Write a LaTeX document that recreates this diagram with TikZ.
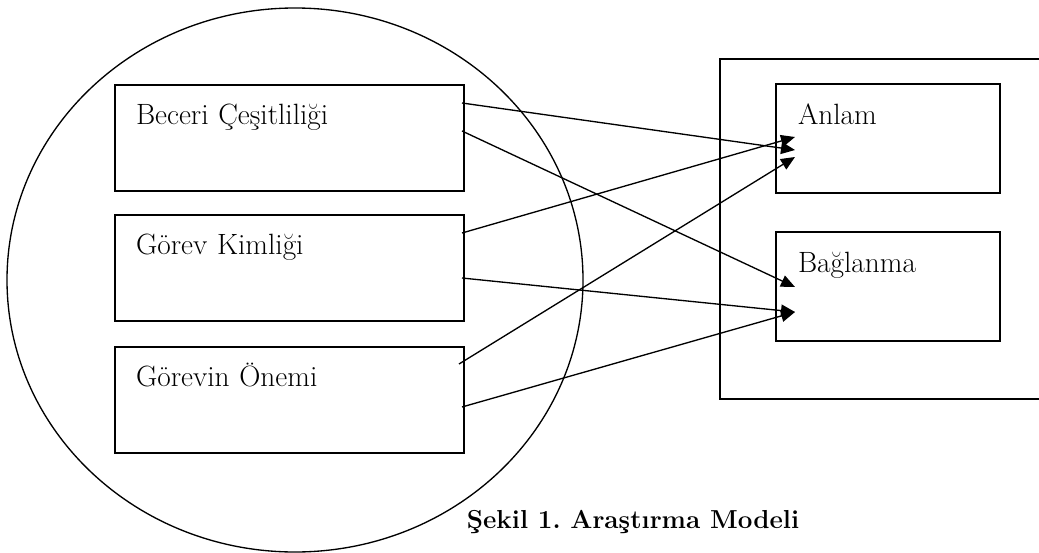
\documentclass[tikz,border=0pt]{standalone}
\usepackage{tikz}
\usetikzlibrary{arrows.meta, positioning, shapes.geometric, calc}
\tikzset{
    kutu/.style={
        rectangle,
        draw=black,
        line width=1.5pt,
        anchor=north west,
        align=left,
        inner xsep=15.75pt,
        inner ysep=0pt,
        text width=230.25pt,
        text height=29.25pt,
        text depth=50.25pt,
        font=\fontsize{22}{26}\selectfont
    },
    sonuc/.style={
        rectangle,
        draw=black,
        line width=1.5pt,
        anchor=north west,
        align=left,
        inner xsep=16.5pt,
        inner ysep=0pt,
        text width=135pt,
        text height=30pt,
        text depth=51.75pt,
        font=\fontsize{22}{26}\selectfont
    },
    cerceve/.style={
        rectangle,
        draw=black,
        line width=1.5pt,
        anchor=north west,
        minimum width=300pt,
        minimum height=255pt
    },
    daire/.style={
        ellipse,
        draw=black,
        line width=1pt,
        inner sep=0pt,
        minimum width=432pt,
        minimum height=408pt
    },
    baslik/.style={anchor=base, font=\bfseries\fontsize{19.5}{23}\selectfont},
    ok/.style={-{Triangle[length=10.5pt, width=9pt]}, line width=1pt, draw=black}
}

\begin{document}
\begin{tikzpicture}[x=0.75pt,y=-0.75pt]
        \useasboundingbox (0,0) rectangle (1039,553);
        \clip (0,0) rectangle (1039,553);

        \node[daire] (grup) at (295,280) {};
        \node[kutu] (beceri) at (114,84) {Beceri Çeşitliliği};
        \node[kutu] (gorev) at (114,214) {Görev Kimliği};
        \node[kutu] (onem) at (114,346) {Görevin Önemi};

        \node[cerceve] (sag) at (719,58) {};
        \node[sonuc] (anlam) at (775,83) {Anlam};
        \node[sonuc] (baglanma) at (775,231) {Bağlanma};

        \node[baslik] (sekil) at (633,528) {Şekil 1.\ Araştırma Modeli};

        \draw[ok] ($(beceri.north east)+(-3,19)$) -- ($(anlam.north west)+(20,67)$);
        \draw[ok] ($(beceri.north east)+(-3,47)$) -- ($(baglanma.north west)+(20,56)$);
        \draw[ok] ($(gorev.north east)+(-3,19)$) -- ($(anlam.north west)+(20,54)$);
        \draw[ok] ($(gorev.north east)+(-3,64)$) -- ($(baglanma.north west)+(20,81)$);
        \draw[ok] ($(onem.north east)+(-6,18)$) -- ($(anlam.north west)+(20,74)$);
        \draw[ok] ($(onem.north east)+(-3,61)$) -- ($(baglanma.north west)+(20,81)$);
    \end{tikzpicture}
\end{document}
